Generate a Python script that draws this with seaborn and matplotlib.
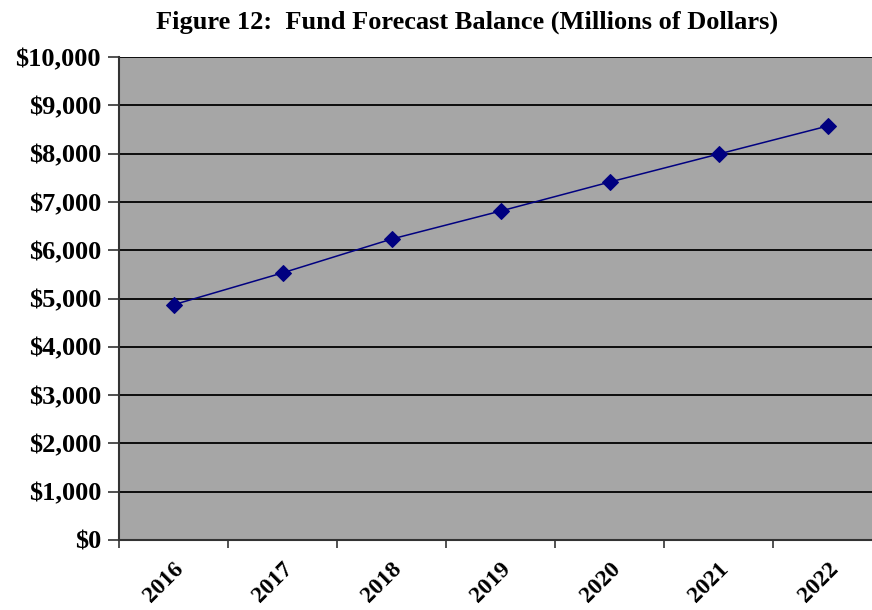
import numpy as np
import pandas as pd
import matplotlib
matplotlib.use("Agg")
import matplotlib.pyplot as plt
import seaborn as sns
from matplotlib.ticker import FuncFormatter, FixedLocator

years = ["2016", "2017", "2018", "2019", "2020", "2021", "2022"]
balance = [4870, 5530, 6230, 6810, 7410, 7990, 8570]

df = pd.DataFrame({"pos": np.arange(len(years)), "year": years, "balance": balance})

sns.set_style("white")
plt.rcParams["font.family"] = ["Liberation Serif", "DejaVu Serif"]
plt.rcParams["font.weight"] = "bold"
plt.rcParams["text.color"] = "black"
plt.rcParams["xtick.color"] = "black"
plt.rcParams["ytick.color"] = "black"

fig = plt.figure(figsize=(8.72, 6.10), dpi=100)
# plot area runs a bit past the right edge like the original
ax = fig.add_axes([119 / 872, 70 / 610, 763 / 872, 483 / 610])
ax.set_facecolor("#a6a6a6")

sns.lineplot(data=df, x="pos", y="balance", ax=ax, color="#000080",
             linewidth=1.1, marker="D", markersize=8, markeredgecolor="#000080")

ax.set_xlim(-0.5, len(years) - 0.5)
ax.set_ylim(0, 10000)
ax.set_yticks(np.arange(0, 10001, 1000))
ax.yaxis.set_major_formatter(FuncFormatter(lambda v, p: f"${v:,.0f}"))
ax.grid(axis="y", color="black", linewidth=1.3)
ax.set_axisbelow(True)

# category ticks at boundaries, labels at centres
ax.set_xticks(df["pos"])
ax.set_xticklabels(years, rotation=45, ha="right", rotation_mode="anchor")
ax.xaxis.set_minor_locator(FixedLocator(np.arange(-0.5, len(years), 1)))
ax.tick_params(axis="x", which="major", bottom=False, length=0, pad=13, labelsize=17)
ax.tick_params(axis="x", which="minor", bottom=True, length=6, width=1.2, color="#333333", direction="out")
ax.tick_params(axis="y", left=True, length=8, width=1.2, color="#333333", direction="out", labelsize=19, pad=5)
for lab in ax.get_xticklabels() + ax.get_yticklabels():
    lab.set_fontweight("bold")
    lab.set_color("black")

for s in ["top", "right"]:
    ax.spines[s].set_visible(False)
for s in ["left", "bottom"]:
    ax.spines[s].set_color("#333333")
    ax.spines[s].set_linewidth(1.5)

ax.set_xlabel("")
ax.set_ylabel("")
fig.text(467 / 872, 1 - 22 / 610, "Figure 12:  Fund Forecast Balance (Millions of Dollars)",
         ha="center", va="center", fontsize=19, fontweight="bold", color="black")

fig.savefig("out.png", dpi=100)
